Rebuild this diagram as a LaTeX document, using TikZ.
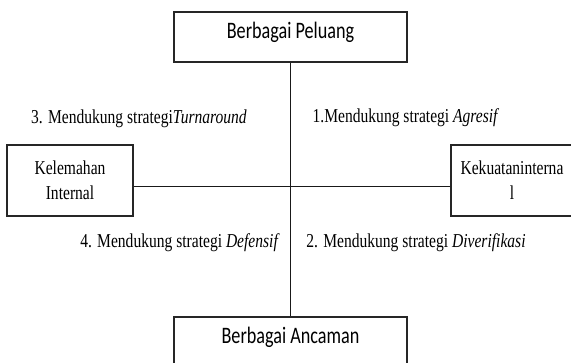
\documentclass[tikz,border=0pt]{standalone}
\usepackage{fontspec}
\setmainfont{Liberation Serif}[FakeStretch=0.79]
\newfontfamily\calibri{Carlito}[FakeStretch=0.77]
\usetikzlibrary{calc,positioning}

\tikzset{
  kotak/.style={draw=black!85, line width=1.2pt, inner sep=0pt},
  judul/.style={kotak, font=\calibri\fontsize{23.6}{28}\selectfont,
    text height=16.5pt, text depth=13pt,
    minimum width=233pt, minimum height=50pt},
  sisi/.style={kotak, font=\fontsize{19.7}{25}\selectfont, align=center,
    minimum height=71pt},
  ket/.style={font=\fontsize{19.7}{24}\selectfont, anchor=base, inner sep=0pt},
  garis/.style={line width=1pt, black!90},
}

\begin{document}
\begin{tikzpicture}[x=1pt,y=-1pt]

			\clip (0,0) rectangle (571,363);
			\coordinate (O) at (290,187);

			\node[judul] (peluang) at (290.5,37) {Berbagai Peluang};
			\node[judul] (ancaman) at (290.5,342) {Berbagai Ancaman};
			\node[sisi, minimum width=126pt] (lemah) at (70,180.5) {Kelemahan\\Internal};
			\node[sisi, minimum width=122pt] (kuat) at (512,180.5) {Kekuataninterna\\l};

			\draw[garis] (peluang) -- (ancaman);
			\draw[garis] (lemah.east |- O) -- (kuat.west |- O);

			\node[ket] (turnaround) at (139,124) {3. Mendukung strategi\textit{Turnaround}};
			\node[ket] (agresif) at (406,123) {1.Mendukung strategi \textit{Agresif}};
			\node[ket] (defensif) at (180,248) {4. Mendukung strategi \textit{Defensif}};
			\node[ket] (diversifikasi) at (416,248) {2. Mendukung strategi \textit{Diverifikasi}};

		\end{tikzpicture}
\end{document}
